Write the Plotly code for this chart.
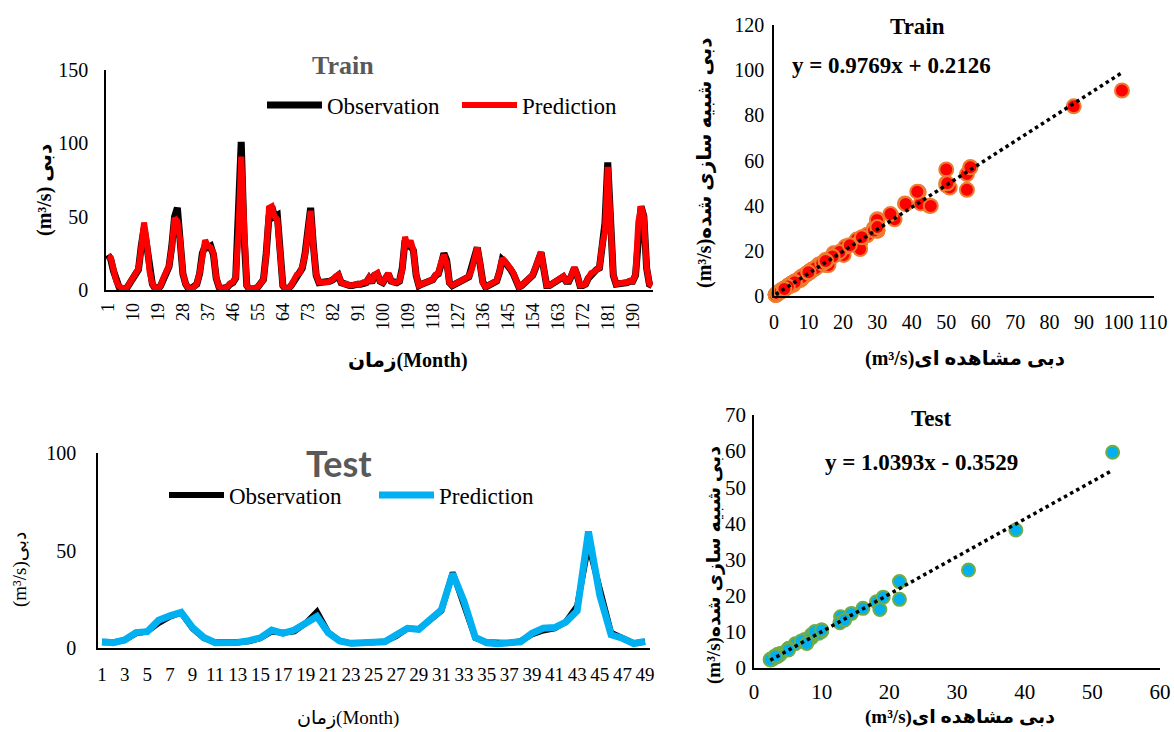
import plotly.graph_objects as go

# ---------------- data ----------------
train_month = list(range(1, 198))
train_obs = [24, 21, 13, 6, 2, 1, 0.5, 2, 5, 8, 10, 14, 30, 42, 30, 12, 4, 1, 0.5, 3,
             8, 13, 16, 30, 50, 56, 35, 11, 4, 1, 1, 2, 4, 11, 25, 30, 29, 30, 24, 8,
             2, 1, 1, 2, 4, 5, 8, 45, 101, 38, 3, 0.5, 0.5, 1, 2, 4, 7, 25, 50, 57,
             50, 51, 27, 3, 0.5, 1, 3, 6, 10, 11, 14.9, 25, 42.6, 56, 29.9, 10, 5, 5, 5, 5,
             6, 7, 9, 10, 5, 4, 4, 3, 3, 4, 4, 4, 5, 5, 8, 5, 10, 11, 6, 5,
             8, 11, 6, 5, 5, 6, 15, 33.8, 30, 29.9, 27, 10, 3, 4, 5, 5, 6, 7, 10, 11,
             17.3, 25, 20.2, 5, 3, 4, 5, 5, 7, 8, 9, 15.8, 25, 29, 18, 5.6, 2, 3, 3, 4,
             6, 12, 20.7, 19, 17, 14, 11, 6, 2, 3, 5, 7.6, 9, 10, 15, 22, 25.5, 14, 3, 3,
             4, 5, 6, 7, 9, 6, 6, 10, 15, 10, 3, 3, 4, 8, 11, 12, 14, 15, 30, 45.5,
             87, 38.2, 10, 4, 4, 5, 5, 5, 6, 6, 10, 41.6, 57, 50.3, 15, 4, 3]
train_pred = [23, 22, 14, 6, 2.5, 1.2, 0.6, 2.2, 5.3, 7.6, 10.5, 14.5, 29, 46, 33, 12.5, 4.2, 1.1, 0.4, 3.2,
              8.3, 13.5, 16.5, 29, 49, 47, 34, 11.5, 4.1, 1.2, 0.9, 2.1, 4.2, 11.5, 24, 34, 30, 29, 25, 8.5,
              2.3, 1.1, 1.2, 2.2, 4.5, 5.3, 8.4, 40, 91, 41, 3.2, 0.6, 0.5, 1.2, 2.1, 4.3, 7.1, 24, 56, 57,
              50, 48, 27, 3.1, 0.6, 1.2, 3.1, 6.4, 10.5, 11.5, 15.9, 24, 41, 54, 29.2, 10.3, 5.3, 5.1, 5.2, 5.3,
              6.2, 7.1, 9.3, 10.4, 5.2, 4.1, 4.2, 3.1, 3.2, 4.1, 4.3, 4.1, 5.2, 5.1, 8.2, 5.3, 10.2, 11.5, 6.1, 5.2,
              8.3, 11.4, 6.2, 5.1, 5.2, 6.3, 13.7, 36.3, 29.5, 33.7, 27, 10.4, 3.2, 4.1, 5.2, 5.1, 6.2, 7.1, 10.3, 11.5,
              18.9, 24, 18.2, 4.9, 3.2, 4.1, 5.3, 5.1, 7.1, 8.2, 9.3, 13.7, 20.8, 29, 18.5, 4.9, 2.1, 3.1, 3.2, 4.2,
              6.3, 12.4, 21.8, 19.5, 17.5, 14.5, 11.5, 6.1, 2.2, 3.1, 5.2, 7.1, 9.2, 10.4, 15.5, 22.5, 26, 14.3, 3.2, 3.1,
              4.2, 5.1, 6.3, 7.2, 9.4, 6.1, 6.3, 10.5, 15.5, 10.2, 3.1, 3.2, 4.1, 8.3, 11.5, 12.3, 14.5, 15.3, 30.5, 39.9,
              84, 40.7, 10.4, 4.1, 4.2, 5.1, 5.2, 5.3, 6.2, 6.1, 10.5, 46.2, 57, 49.9, 15.5, 4.2, 3.1]
train_ticks = [1, 10, 19, 28, 37, 46, 55, 64, 73, 82, 91, 100, 109, 118, 127, 136, 145, 154, 163, 172, 181, 190]

test_month = list(range(1, 50))
test_obs = [3.0, 2.8, 4.0, 7.5, 8.5, 12.8, 16.1, 18.1, 10.0, 5.1,
            2.9, 2.8, 2.9, 3.5, 5.0, 8.5, 7.8, 8.5, 12.7, 18.6,
            8.0, 3.8, 2.4, 2.6, 3.2, 3.3, 6.1, 10.0, 9.6, 14.4,
            19.1, 38.7, 21.5, 5.1, 2.9, 2.5, 2.6, 3.5, 7.0, 9.0,
            10.0, 13.4, 21.5, 53.0, 31.7, 7.8, 5.1, 2.4, 3.2]
test_pred = [3.2, 2.7, 4.1, 7.9, 8.4, 14.2, 16.5, 18.3, 10.5, 5.4,
             2.7, 2.6, 2.8, 3.8, 5.2, 9.2, 7.5, 9.2, 12.5, 16.2,
             7.8, 3.6, 2.4, 2.5, 3.2, 3.2, 6.7, 10.1, 9.6, 15.1,
             19.6, 38.2, 23.9, 5.4, 2.7, 2.2, 2.5, 3.2, 7.5, 10.1,
             10.5, 13.3, 19.0, 59.7, 27.1, 6.8, 5.0, 2.3, 3.3]
test_ticks = list(range(1, 50, 2))

train_fit = (0.9769, 0.2126)
test_fit = (1.0393, -0.3529)

# ---------------- styling ----------------
SERIF = "Liberation Serif, 'Times New Roman', DejaVu Sans, serif"
W, H = 1174, 732


def fx(px):
    return px / W


def fy(py):
    return 1 - py / H


fig = go.Figure()

# Top-left: train time series
fig.add_trace(go.Scatter(x=train_month, y=train_obs, mode="lines", name="Observation",
                         line=dict(color="#000000", width=7), xaxis="x", yaxis="y",
                         legend="legend", cliponaxis=False))
fig.add_trace(go.Scatter(x=train_month, y=train_pred, mode="lines", name="Prediction",
                         line=dict(color="#FF0000", width=6), xaxis="x", yaxis="y",
                         legend="legend", cliponaxis=False))

# Bottom-left: test time series
fig.add_trace(go.Scatter(x=test_month, y=test_obs, mode="lines", name="Observation",
                         line=dict(color="#000000", width=6), xaxis="x3", yaxis="y3",
                         legend="legend2", cliponaxis=False))
fig.add_trace(go.Scatter(x=test_month, y=test_pred, mode="lines", name="Prediction",
                         line=dict(color="#00B0F0", width=7), xaxis="x3", yaxis="y3",
                         legend="legend2", cliponaxis=False))

# Top-right: train scatter
fig.add_trace(go.Scatter(x=train_obs, y=train_pred, mode="markers", showlegend=False,
                         marker=dict(color="#FF0000", size=14, line=dict(color="#ED7D31", width=2)),
                         xaxis="x2", yaxis="y2", cliponaxis=False))
tx = [min(train_obs), max(train_obs)]
fig.add_trace(go.Scatter(x=tx, y=[train_fit[0] * v + train_fit[1] for v in tx], mode="lines",
                         showlegend=False, line=dict(color="#000000", width=3.5, dash="dot"),
                         xaxis="x2", yaxis="y2"))

# Bottom-right: test scatter
fig.add_trace(go.Scatter(x=test_obs, y=test_pred, mode="markers", showlegend=False,
                         marker=dict(color="#00B0F0", size=13, line=dict(color="#70AD47", width=2)),
                         xaxis="x4", yaxis="y4", cliponaxis=False))
sx = [min(test_obs), max(test_obs)]
fig.add_trace(go.Scatter(x=sx, y=[test_fit[0] * v + test_fit[1] for v in sx], mode="lines",
                         showlegend=False, line=dict(color="#000000", width=3.5, dash="dot"),
                         xaxis="x4", yaxis="y4"))

axis_common = dict(showgrid=False, zeroline=False, showline=True, linecolor="#000000",
                   linewidth=1.5, ticks="", automargin=False,
                   tickfont=dict(family=SERIF, size=20, color="#000000"))

fig.update_layout(
    width=W, height=H, margin=dict(l=0, r=0, t=0, b=0, pad=0, autoexpand=False),
    paper_bgcolor="white", plot_bgcolor="white",
    font=dict(family=SERIF, color="#000000"),
    xaxis=dict(axis_common, domain=[fx(106), fx(653)], anchor="y", range=[0.3, 197.3],
               tickmode="array", tickvals=train_ticks, ticktext=[str(t) for t in train_ticks],
               tickangle=-90, tickfont=dict(family=SERIF, size=18, color="#000000"),
               ticklabelstandoff=4),
    yaxis=dict(axis_common, domain=[fy(290), fy(70)], anchor="x", range=[0, 150],
               tickvals=[0, 50, 100, 150], ticklabelstandoff=12),
    xaxis3=dict(axis_common, domain=[fx(98), fx(650)], anchor="y3", range=[0.646, 49.44],
                tickmode="array", tickvals=test_ticks, ticktext=[str(t) for t in test_ticks],
                tickangle=0, tickfont=dict(family=SERIF, size=19, color="#000000"),
                ticklabelstandoff=8),
    yaxis3=dict(axis_common, domain=[fy(648), fy(453)], anchor="x3", range=[0, 100],
                tickvals=[0, 50, 100], ticklabelstandoff=16),
    xaxis2=dict(axis_common, domain=[fx(774), fx(1154)], anchor="y2", range=[0, 110.3],
                tickvals=list(range(0, 111, 10)), ticklabelstandoff=7),
    yaxis2=dict(axis_common, domain=[fy(296), fy(25)], anchor="x2", range=[0, 120],
                tickvals=list(range(0, 121, 20)), ticklabelstandoff=4),
    xaxis4=dict(axis_common, domain=[fx(754), fx(1160)], anchor="y4", range=[0, 60],
                tickvals=list(range(0, 61, 10)), ticklabelstandoff=4,
                tickfont=dict(family=SERIF, size=21, color="#000000")),
    yaxis4=dict(axis_common, domain=[fy(668), fy(415)], anchor="x4", range=[0, 70],
                tickvals=list(range(0, 71, 10)), ticklabelstandoff=2,
                tickfont=dict(family=SERIF, size=21, color="#000000")),
    legend=dict(orientation="h", x=fx(262), y=fy(105), xanchor="left", yanchor="middle",
                font=dict(family=SERIF, size=23, color="#000000"), bgcolor="rgba(0,0,0,0)",
                itemwidth=55, entrywidth=125, tracegroupgap=0),
    legend2=dict(orientation="h", x=fx(164), y=fy(495), xanchor="left", yanchor="middle",
                 font=dict(family=SERIF, size=23, color="#000000"), bgcolor="rgba(0,0,0,0)",
                 itemwidth=55, entrywidth=140, tracegroupgap=0),
)

ann = []
# titles
ann.append(dict(text="<b>Train</b>", x=fx(343), y=fy(65), font=dict(family=SERIF, size=26, color="#595959")))
ann.append(dict(text="<b>Test</b>", x=fx(339), y=fy(463), font=dict(family="Lato, 'Open Sans', sans-serif", size=36, color="#595959")))
ann.append(dict(text="<b>Train</b>", x=fx(917), y=fy(26), font=dict(family=SERIF, size=23, color="#000000")))
ann.append(dict(text="<b>y = 0.9769x + 0.2126</b>", x=fx(891), y=fy(65), font=dict(family=SERIF, size=23, color="#000000")))
ann.append(dict(text="<b>Test</b>", x=fx(931), y=fy(418), font=dict(family=SERIF, size=23, color="#000000")))
ann.append(dict(text="<b>y = 1.0393x - 0.3529</b>", x=fx(921), y=fy(462), font=dict(family=SERIF, size=23, color="#000000")))
# axis titles
ann.append(dict(text="<b>(m³/s) دبی</b>", x=fx(45), y=fy(190), textangle=-90, font=dict(family=SERIF, size=20)))
ann.append(dict(text="<b>زمان(Month)</b>", x=fx(408), y=fy(360), font=dict(family=SERIF, size=20)))
ann.append(dict(text="<b>(m³/s)دبی شبیه سازی شده</b>", x=fx(705), y=fy(163), textangle=-90, font=dict(family=SERIF, size=20)))
ann.append(dict(text="<b>(m³/s)دبی مشاهده ای</b>", x=fx(965), y=fy(358), font=dict(family=SERIF, size=20)))
ann.append(dict(text="(m³/s)دبی", x=fx(20), y=fy(570), textangle=-90, font=dict(family=SERIF, size=19)))
ann.append(dict(text="زمان(Month)", x=fx(348), y=fy(718), font=dict(family=SERIF, size=19)))
ann.append(dict(text="<b>(m³/s)دبی شبیه سازی شده</b>", x=fx(714), y=fy(565), textangle=-90, font=dict(family=SERIF, size=19)))
ann.append(dict(text="<b>(m³/s)دبی مشاهده ای</b>", x=fx(960), y=fy(717), font=dict(family=SERIF, size=19)))

for a in ann:
    a.update(xref="paper", yref="paper", showarrow=False, xanchor="center", yanchor="middle")
fig.update_layout(annotations=ann)

fig.write_html("out.html",
               post_script="document.body.style.margin='0';document.body.style.overflow='hidden';")
